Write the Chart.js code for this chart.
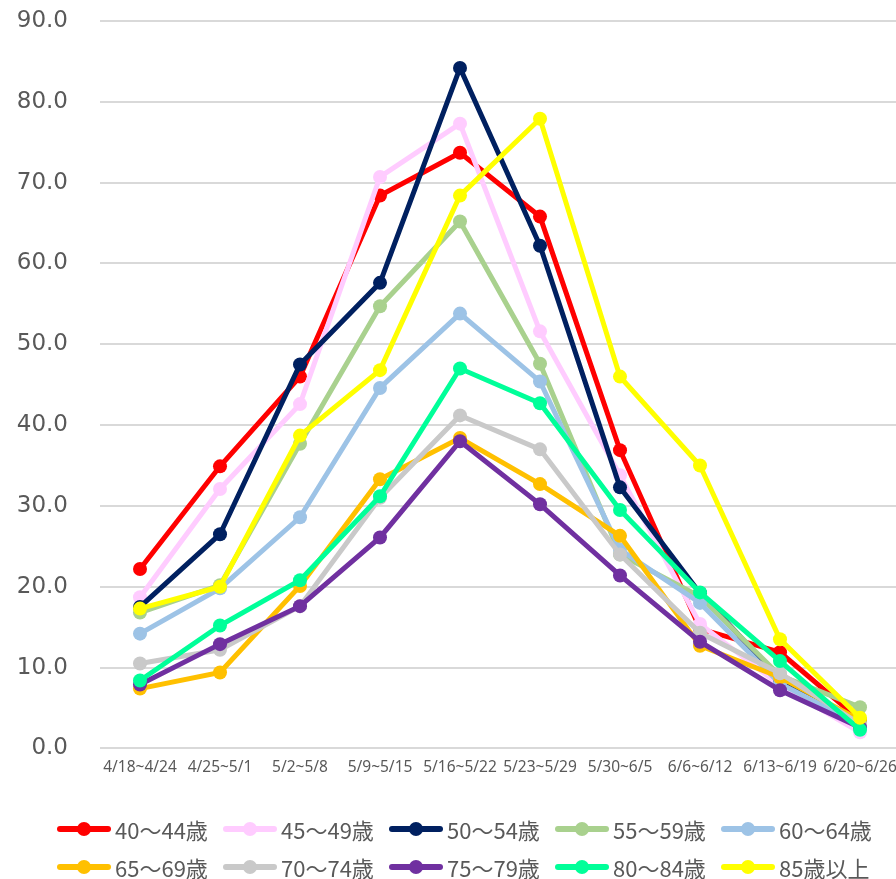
<!DOCTYPE html>
<html>
<head>
<meta charset="utf-8">
<script src="https://cdn.jsdelivr.net/npm/chart.js@4/dist/chart.umd.min.js"></script>
<style>
    html, body { margin: 0; padding: 0; background: #fff; overflow: hidden; width: 896px; height: 879px; }
    #chart { position: absolute; left: 0; top: 0; }
    #legend { position: absolute; left: 0; top: 0; width: 896px; height: 879px; pointer-events: none; }
    .item { position: absolute; display: flex; align-items: center; height: 30px; }
    .mark { position: relative; width: 54px; height: 6px; border-radius: 3px; }
    .mark i { position: absolute; left: 20px; top: -4px; width: 14px; height: 14px; border-radius: 50%; }
    .item span.txt { margin-left: 4px; font-family: "Noto Sans CJK JP", sans-serif; font-size: 22px; line-height: 1; color: #595959; white-space: nowrap; }
</style>
</head>
<body>
<canvas id="chart" width="907" height="790"></canvas>
<div id="legend"></div>
<script>
var weeks = ["4/18~4/24", "4/25~5/1", "5/2~5/8", "5/9~5/15", "5/16~5/22", "5/23~5/29", "5/30~6/5", "6/6~6/12", "6/13~6/19", "6/20~6/26"];
var yTicks = [0, 10, 20, 30, 40, 50, 60, 70, 80, 90];

var age40to44 = [22.2, 34.9, 46.0, 68.4, 73.7, 65.8, 36.9, 14.8, 11.9, 3.5];
var age45to49 = [18.7, 32.1, 42.6, 70.7, 77.3, 51.6, 33.8, 15.4, 7.8, 2.0];
var age50to54 = [17.5, 26.5, 47.5, 57.6, 84.2, 62.2, 32.3, 19.2, 8.5, 3.2];
var age55to59 = [16.8, 20.2, 37.7, 54.7, 65.2, 47.6, 24.0, 18.8, 9.0, 5.1];
var age60to64 = [14.2, 19.8, 28.6, 44.6, 53.8, 45.4, 24.6, 18.0, 8.0, 3.0];
var age65to69 = [7.4, 9.4, 20.1, 33.3, 38.4, 32.7, 26.3, 12.7, 8.8, 3.5];
var age70to74 = [10.5, 12.2, 17.6, 31.0, 41.2, 37.0, 24.0, 14.3, 9.3, 3.0];
var age75to79 = [7.9, 12.9, 17.6, 26.1, 38.0, 30.2, 21.4, 13.2, 7.2, 2.6];
var age80to84 = [8.4, 15.2, 20.8, 31.2, 47.0, 42.7, 29.5, 19.3, 10.8, 2.3];
var age85plus = [17.3, 20.0, 38.7, 46.8, 68.4, 77.9, 46.0, 35.0, 13.5, 3.8];

var seriesNames = ["40〜44歳", "45〜49歳", "50〜54歳", "55〜59歳", "60〜64歳", "65〜69歳", "70〜74歳", "75〜79歳", "80〜84歳", "85歳以上"];
var seriesData = [age40to44, age45to49, age50to54, age55to59, age60to64, age65to69, age70to74, age75to79, age80to84, age85plus];
var seriesColors = ["#FF0000", "#FFCCFF", "#002060", "#A9D18E", "#9DC3E6", "#FFC000", "#C9C9C9", "#7030A0", "#00FF99", "#FFFF00"];

var datasets = [];
for (var i = 0; i < seriesData.length; i++) {
    datasets.push({
        label: seriesNames[i],
        data: seriesData[i],
        borderColor: seriesColors[i],
        backgroundColor: seriesColors[i],
        pointBackgroundColor: seriesColors[i],
        pointBorderColor: seriesColors[i],
        borderWidth: 5,
        pointRadius: 7,
        pointBorderWidth: 0,
        tension: 0,
        fill: false,
        // later series on top, like the original
        order: seriesData.length - i
    });
}

var textGray = "#595959";

new Chart(document.getElementById("chart"), {
    type: "line",
    data: { labels: weeks, datasets: datasets },
    options: {
        responsive: false,
        animation: false,
        layout: { padding: { top: 21, right: 0, bottom: 3, left: 0 } },
        plugins: {
            legend: { display: false },
            tooltip: { enabled: false }
        },
        scales: {
            x: {
                offset: true,
                afterFit: function (scale) { scale.paddingLeft = 0; scale.paddingRight = 0; },
                grid: { display: false, drawTicks: false },
                border: { display: false },
                ticks: {
                    color: textGray,
                    padding: 10,
                    maxRotation: 0,
                    autoSkip: false,
                    font: { family: "Noto Sans", size: 15.5 }
                }
            },
            y: {
                min: 0,
                max: 90,
                afterFit: function (scale) {
                    scale.width = 100;
                    scale.paddingTop = 0;
                    scale.paddingBottom = 0;
                },
                afterBuildTicks: function (scale) {
                    scale.ticks = yTicks.map(function (v) { return { value: v }; });
                },
                grid: { color: "#D9D9D9", lineWidth: 2, drawTicks: false },
                border: { display: false },
                ticks: {
                    color: textGray,
                    padding: 32,
                    font: { family: "DejaVu Sans", size: 23 },
                    callback: function (v) { return Number(v).toFixed(1); }
                }
            }
        }
    }
});

// legend as html, 5 per row
var legend = document.getElementById("legend");
for (var j = 0; j < seriesNames.length; j++) {
    var col = j % 5;
    var row = Math.floor(j / 5);
    var item = document.createElement("div");
    item.className = "item";
    item.style.left = (57 + col * 166) + "px";
    item.style.top = (814 + row * 38) + "px";
    item.innerHTML = "<span class=\"mark\" style=\"background:" + seriesColors[j] + "\"><i style=\"background:" + seriesColors[j] + "\"></i></span>" +
        "<span class=\"txt\">" + seriesNames[j] + "</span>";
    legend.appendChild(item);
}
</script>
</body>
</html>
